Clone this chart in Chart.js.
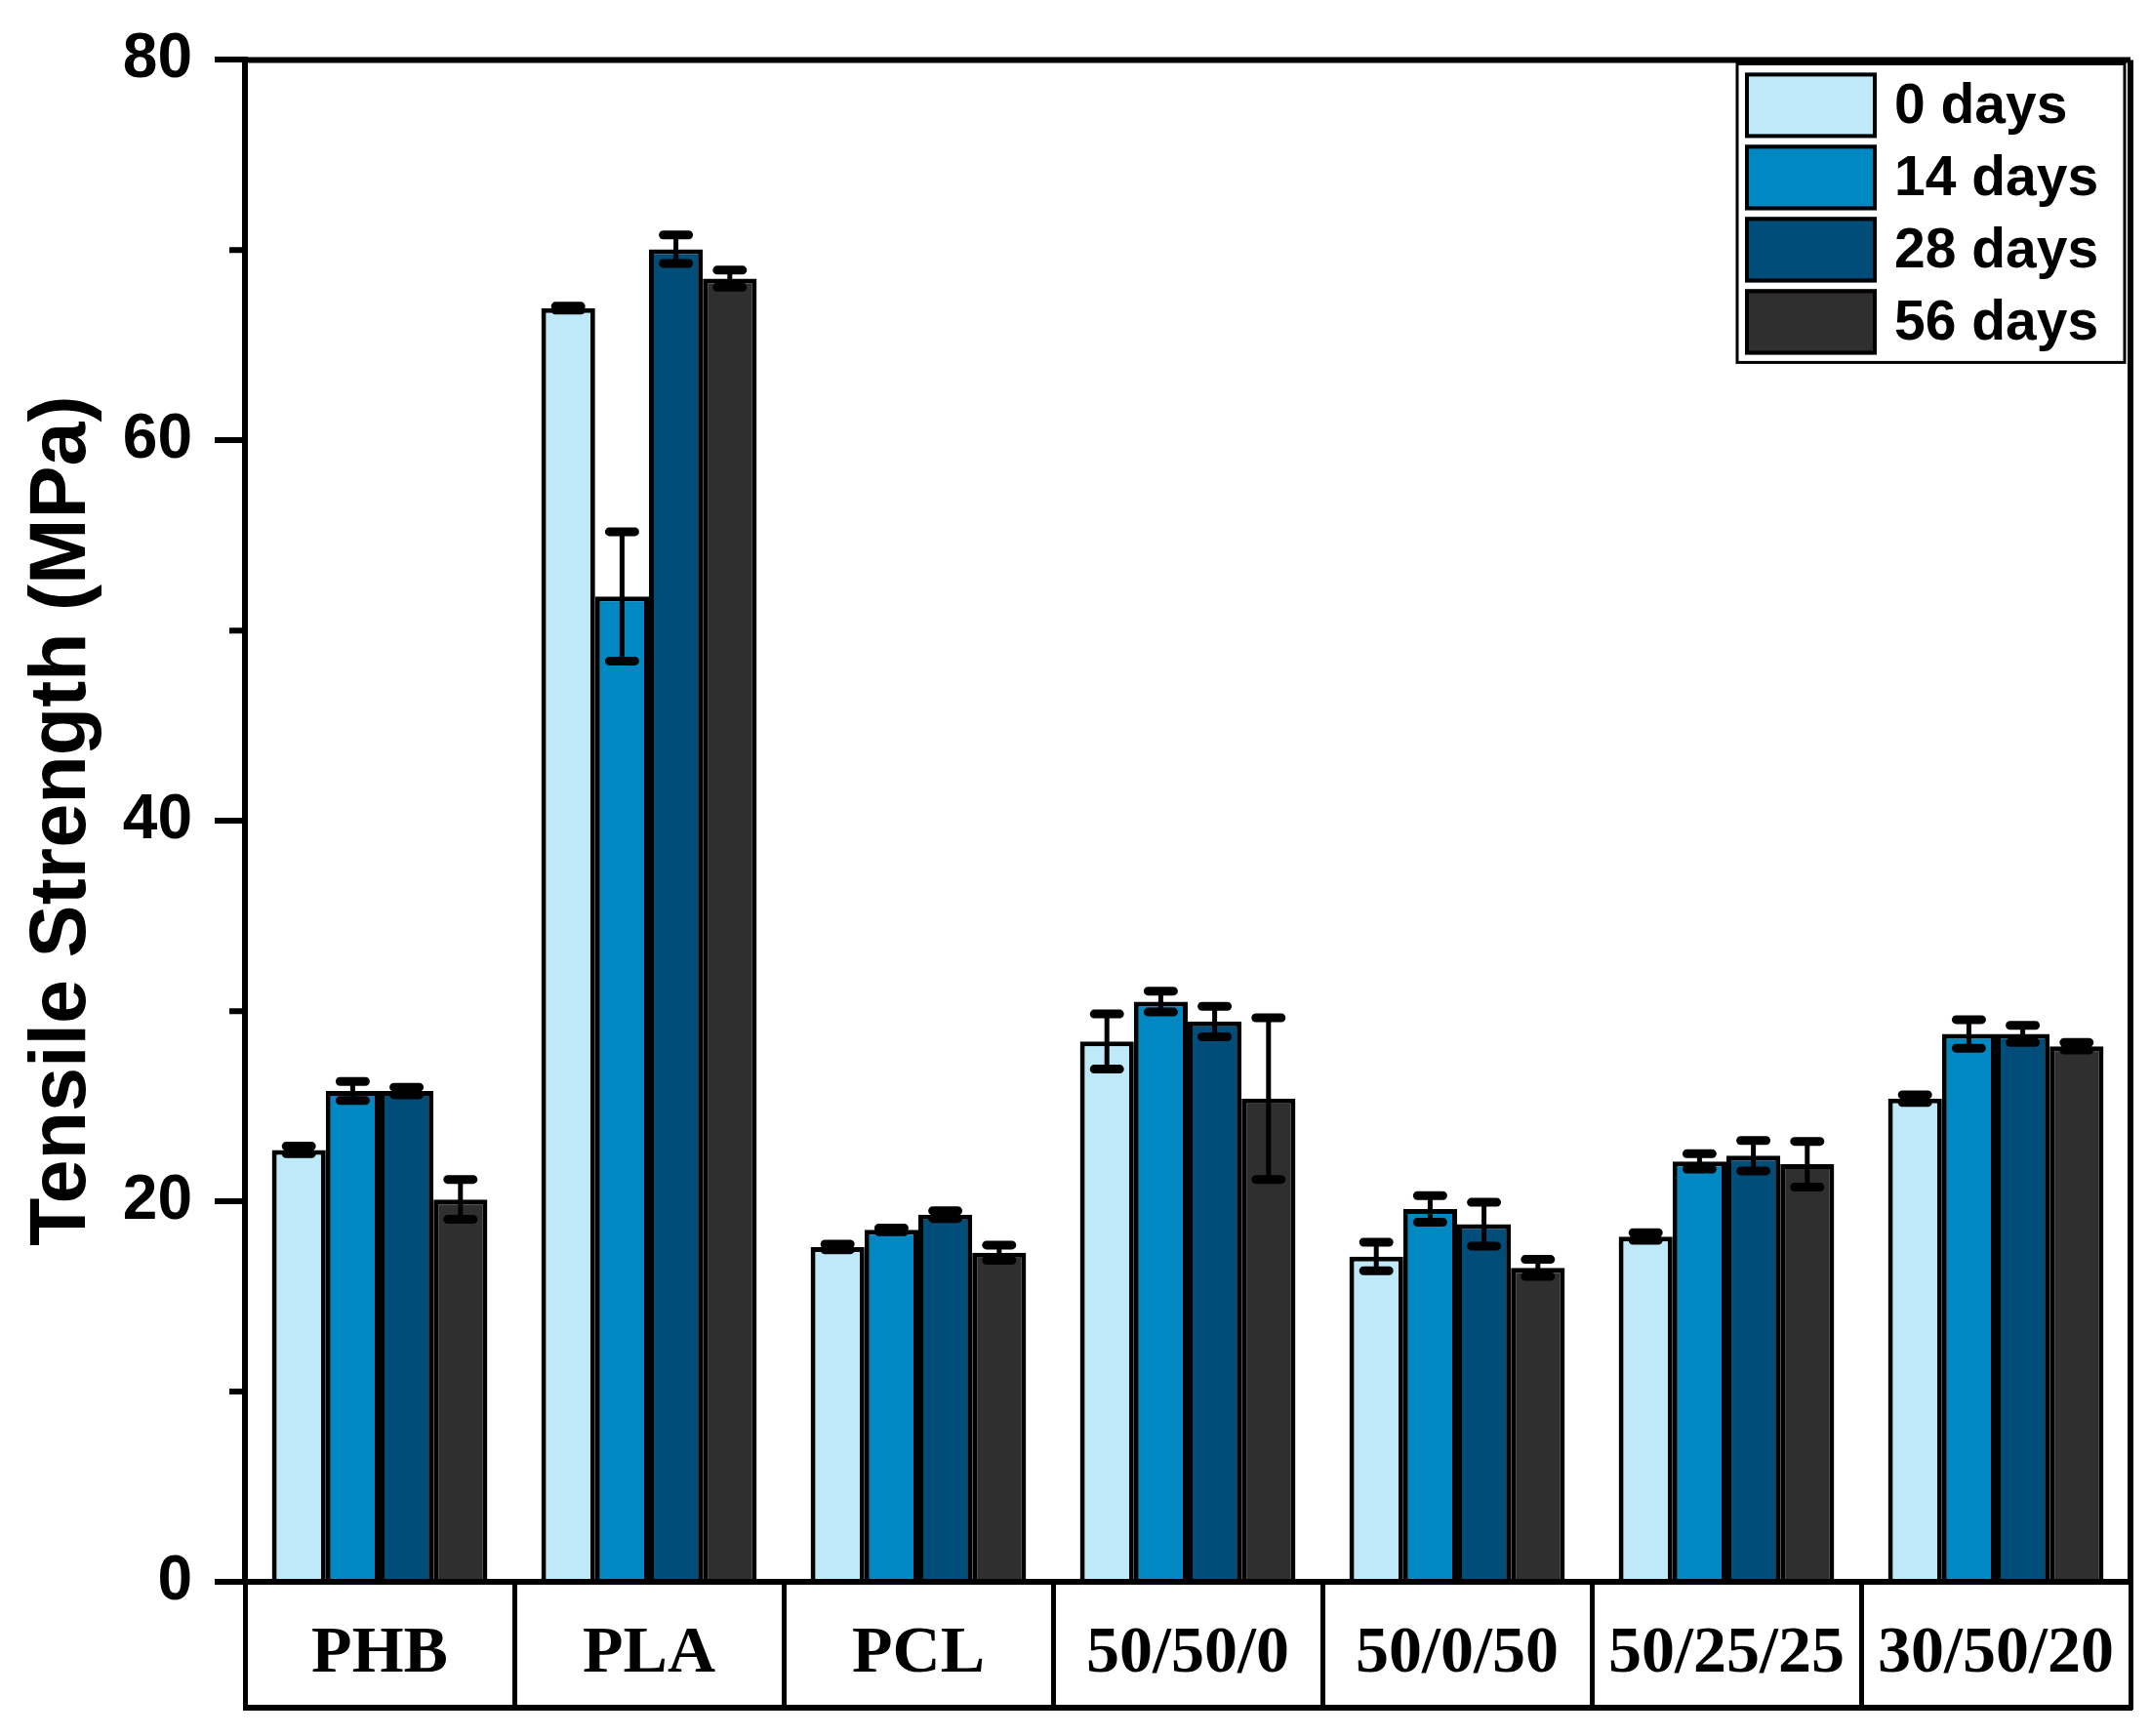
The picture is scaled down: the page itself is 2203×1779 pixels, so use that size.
<!DOCTYPE html>
<html>
<head>
<meta charset="utf-8">
<script src="https://cdn.jsdelivr.net/npm/chart.js@4.4.1/dist/chart.umd.min.js"></script>
<style>
  html, body { margin: 0; padding: 0; background: #fff; }
  #wrap { width: 2203px; height: 1779px; }
</style>
</head>
<body>
<div id="wrap"><canvas id="myChart" width="2203" height="1779"></canvas></div>
<script>
// datos
const categorias = ["PHB", "PLA", "PCL", "50/50/0", "50/0/50", "50/25/25", "30/50/20"];
const etiquetas = ["0 days", "14 days", "28 days", "56 days"];

const dias0 = [22.7, 66.95, 17.6, 28.4, 17.1, 18.15, 25.4];
const dias0Err = [0.2, 0.1, 0.15, 1.45, 0.75, 0.2, 0.2];
const dias14 = [25.8, 51.8, 18.5, 30.5, 19.6, 22.1, 28.8];
const dias14Err = [0.5, 3.4, 0.1, 0.55, 0.7, 0.4, 0.75];
const dias28 = [25.8, 70.05, 19.3, 29.45, 18.8, 22.4, 28.8];
const dias28Err = [0.2, 0.75, 0.2, 0.8, 1.15, 0.8, 0.45];
const dias56 = [20.1, 68.5, 17.3, 25.4, 16.5, 21.95, 28.15];
const dias56Err = [1.05, 0.45, 0.4, 4.25, 0.45, 1.2, 0.2];

const yTicks = [0, 20, 40, 60, 80];

const colores = ["#bde9f8", "#0088c2", "#004d7a", "#2f2f2f"];

const chartDom = document.getElementById("myChart");

// barras de error
const errorBars = {
  id: "errorBars",
  afterDatasetsDraw(chart) {
    const ctx = chart.ctx;
    const y = chart.scales.y;
    chart.data.datasets.forEach((ds, i) => {
      const meta = chart.getDatasetMeta(i);
      meta.data.forEach((bar, j) => {
        const v = ds.data[j];
        const e = ds.errors[j];
        const top = y.getPixelForValue(v + e);
        const bot = y.getPixelForValue(v - e);
        ctx.save();
        ctx.strokeStyle = "#000";
        ctx.lineWidth = 5;
        ctx.beginPath();
        ctx.moveTo(bar.x, top);
        ctx.lineTo(bar.x, bot);
        ctx.stroke();
        ctx.lineWidth = 9;
        ctx.lineCap = "round";
        ctx.beginPath();
        ctx.moveTo(bar.x - 13, top);
        ctx.lineTo(bar.x + 13, top);
        ctx.moveTo(bar.x - 13, bot);
        ctx.lineTo(bar.x + 13, bot);
        ctx.stroke();
        ctx.restore();
      });
    });
  }
};

// marco, tabla de categorias y ticks menores
const marco = {
  id: "marco",
  afterDraw(chart) {
    const ctx = chart.ctx;
    const a = chart.chartArea;
    const y = chart.scales.y;
    ctx.save();
    ctx.strokeStyle = "#000";
    ctx.lineWidth = 6;
    ctx.beginPath();
    ctx.moveTo(a.left, a.top);
    ctx.lineTo(a.right, a.top);
    ctx.moveTo(a.right, a.top);
    ctx.lineTo(a.right, a.bottom);
    ctx.stroke();

    ctx.lineWidth = 6;
    ctx.beginPath();
    ctx.moveTo(a.left - 2, a.bottom + 129);
    ctx.lineTo(a.right + 2, a.bottom + 129);
    ctx.stroke();

    // ticks menores entre los mayores
    ctx.lineWidth = 6;
    ctx.beginPath();
    for (let k = 0; k < yTicks.length - 1; k++) {
      const py = y.getPixelForValue((yTicks[k] + yTicks[k + 1]) / 2);
      ctx.moveTo(a.left - 16, py);
      ctx.lineTo(a.left, py);
    }
    ctx.stroke();
    ctx.restore();
  }
};

// leyenda dentro del area
const leyenda = {
  id: "leyenda",
  afterDraw(chart) {
    const ctx = chart.ctx;
    const a = chart.chartArea;
    const right = a.right - 6;
    const top = a.top + 4;
    const left = right - 397;
    ctx.save();
    ctx.fillStyle = "#fff";
    ctx.fillRect(left, top, right - left, 306);
    ctx.strokeStyle = "#000";
    ctx.lineWidth = 3;
    ctx.strokeRect(left, top, right - left, 306);
    chart.data.datasets.forEach((ds, i) => {
      const sy = top + 9 + i * 74;
      ctx.fillStyle = ds.backgroundColor;
      ctx.fillRect(left + 8, sy, 135, 67);
      ctx.lineWidth = 4;
      ctx.strokeRect(left + 10, sy + 2, 131, 63);
      ctx.fillStyle = "#000";
      ctx.font = "bold 57px 'Liberation Sans', Arial, sans-serif";
      ctx.textBaseline = "middle";
      ctx.textAlign = "left";
      ctx.fillText(ds.label, left + 161, sy + 36);
    });
    ctx.restore();
  }
};

const valores = [dias0, dias14, dias28, dias56];
const errores = [dias0Err, dias14Err, dias28Err, dias56Err];

const datasets = etiquetas.map((label, i) => ({
  label: label,
  data: valores[i],
  errors: errores[i],
  backgroundColor: colores[i],
  borderColor: "#000",
  borderWidth: 5,
  categoryPercentage: 0.8,
  barPercentage: 1.0
}));

const config = {
  type: "bar",
  data: { labels: categorias, datasets: datasets },
  options: {
    responsive: false,
    animation: false,
    devicePixelRatio: 1,
    layout: { padding: { top: 58, right: 20, left: 0, bottom: 0 } },
    plugins: {
      legend: { display: false },
      tooltip: { enabled: false }
    },
    scales: {
      x: {
        type: "category",
        offset: true,
        grid: {
          display: true,
          offset: true,
          drawOnChartArea: false,
          drawTicks: true,
          tickLength: 131,
          lineWidth: 5,
          color: "#000"
        },
        border: { display: true, color: "#000", width: 6 },
        ticks: {
          autoSkip: false,
          maxRotation: 0,
          padding: -97,
          color: "#000",
          font: { family: "'Liberation Serif', 'Times New Roman', serif", size: 68, weight: "bold" }
        },
        afterFit(scale) { scale.height = 158; }
      },
      y: {
        min: 0,
        max: 80,
        afterBuildTicks(scale) { scale.ticks = yTicks.map(v => ({ value: v })); },
        grid: {
          display: true,
          drawOnChartArea: false,
          drawTicks: true,
          tickLength: 31,
          lineWidth: 6,
          color: "#000"
        },
        border: { display: true, color: "#000", width: 6 },
        ticks: {
          padding: 23,
          color: "#000",
          font: { family: "'Liberation Sans', Arial, sans-serif", size: 64, weight: "bold" }
        },
        title: {
          display: true,
          text: "Tensile Strength (MPa)",
          color: "#000",
          padding: { top: 16, bottom: 0 },
          font: { family: "'Liberation Sans', Arial, sans-serif", size: 81, weight: "bold" }
        },
        afterFit(scale) { scale.width = 251; }
      }
    }
  },
  plugins: [errorBars, marco, leyenda]
};

const myChart = new Chart(chartDom, config);
</script>
</body>
</html>
